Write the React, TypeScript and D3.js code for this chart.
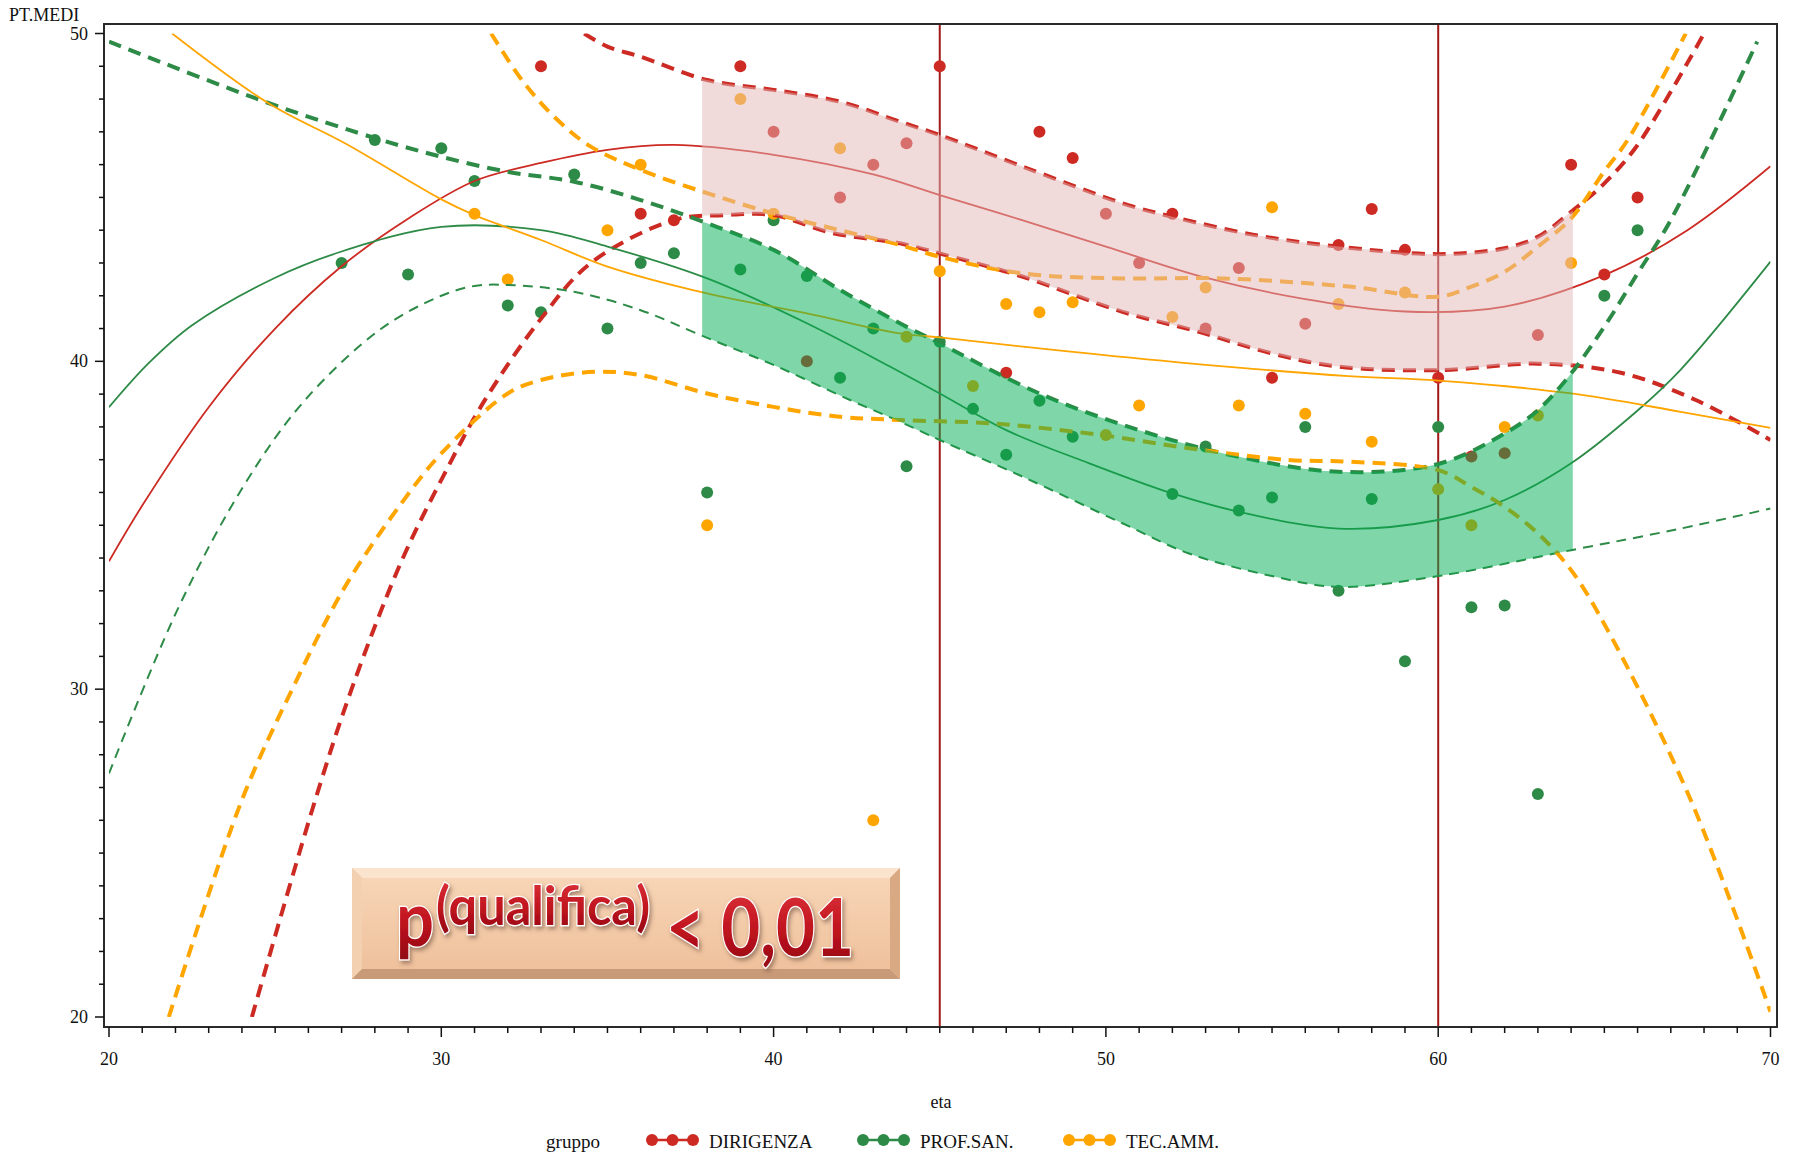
import React, { useEffect } from "react";
import * as d3 from "d3";

// ---------- categories / styles ----------
const groups = ["DIRIGENZA", "PROF.SAN.", "TEC.AMM."];
const colors = ["#cc2a22", "#2e8b47", "#ffa500"];

// ---------- axes ----------
const xTicks = [20, 30, 40, 50, 60, 70];
const yTicks = [20, 30, 40, 50];
const refAges = [45, 60];
const bandRange = [37.85, 64.05];

// ---------- scatter: DIRIGENZA ----------
const dirAge = [33, 36, 37, 39, 40, 41, 42, 43, 44, 45, 47, 48, 49, 50, 51, 52, 53, 54, 55, 56, 57, 58, 59, 60, 61, 62, 63, 64, 65, 66];
const dirVal = [49.0, 44.5, 44.3, 49.0, 47.0, 40.0, 45.0, 46.0, 46.65, 49.0, 39.65, 47.0, 46.2, 44.5, 43.0, 44.5, 41.0, 42.85, 39.5, 41.15, 43.55, 44.65, 43.4, 39.5, 37.1, 37.2, 40.8, 46.0, 42.65, 45.0];

// ---------- scatter: PROF.SAN. ----------
const grnAge = [27, 28, 29, 30, 31, 32, 33, 34, 35, 36, 37, 38, 39, 40, 41, 42, 43, 44, 45, 46, 47, 48, 49, 52, 53, 54, 55, 56, 57, 58, 59, 60, 61, 62, 63, 65, 66];
const grnVal = [43.0, 46.75, 42.65, 46.5, 45.5, 41.7, 41.5, 45.7, 41.0, 43.0, 43.3, 36.0, 42.8, 44.3, 42.6, 39.5, 41.0, 36.8, 40.6, 38.55, 37.15, 38.8, 37.7, 35.95, 37.4, 35.45, 35.85, 38.0, 33.0, 35.8, 30.85, 38.0, 32.5, 32.55, 26.8, 42.0, 44.0];

// ---------- scatter: TEC.AMM. ----------
const orgAge = [31, 32, 35, 36, 38, 39, 40, 42, 43, 44, 45, 46, 47, 48, 49, 50, 51, 52, 53, 54, 55, 56, 57, 58, 59, 60, 61, 62, 63, 64];
const orgVal = [44.5, 42.5, 44.0, 46.0, 35.0, 48.0, 44.5, 46.5, 26.0, 40.75, 42.75, 39.25, 41.75, 41.5, 41.8, 37.75, 38.65, 41.35, 42.25, 38.65, 44.7, 38.4, 41.75, 37.55, 42.1, 36.1, 35.0, 38.0, 38.35, 43.0];

// ---------- fitted curves & limits ----------
const dirFitAge = [20, 21, 23, 25, 27, 29, 31, 33, 35, 37, 40, 43, 45, 47.5, 50, 53, 56, 59, 62, 65, 67.5, 70];
const dirFitVal = [33.9, 35.6, 38.6, 41.0, 42.9, 44.35, 45.5, 46.05, 46.45, 46.6, 46.3, 45.7, 45.07, 44.3, 43.5, 42.55, 41.9, 41.52, 41.67, 42.63, 44.0, 45.95];
const dirUpAge = [34.3, 35, 36, 38, 40, 42, 43.8, 45, 47.5, 50.5, 52, 54.5, 57, 60, 62, 63, 64, 65, 66, 68];
const dirUpVal = [50, 49.6, 49.29, 48.58, 48.28, 47.92, 47.31, 46.9, 45.94, 44.82, 44.41, 43.85, 43.5, 43.27, 43.45, 43.8, 44.56, 45.43, 46.6, 50];
const dirLoAge = [24.3, 26.2, 27.3, 28.8, 30.06, 31.3, 33, 34.5, 37, 38.5, 40, 41.7, 43.8, 45, 47.5, 50.5, 52.8, 55, 57, 60, 63, 65.5, 67.75, 70];
const dirLoVal = [20, 26.6, 30.0, 33.9, 36.5, 38.8, 41.3, 43.0, 44.31, 44.46, 44.46, 43.93, 43.6, 43.29, 42.58, 41.51, 40.9, 40.24, 39.84, 39.73, 39.93, 39.65, 38.82, 37.6];

const grnFitAge = [20, 21.2, 22.5, 25, 27, 30, 33, 35, 38, 41, 43.5, 45, 47, 49.5, 52, 54, 57, 60, 62, 64, 66, 67.3, 70];
const grnFitVal = [38.6, 39.95, 41.1, 42.55, 43.35, 44.1, 44.0, 43.5, 42.53, 41.16, 39.84, 39.02, 37.9, 36.89, 35.97, 35.41, 34.9, 35.16, 35.77, 36.89, 38.5, 39.75, 43.04];
const grnUpAge = [20, 24.8, 28.2, 30, 32, 34, 36, 38, 40, 42, 43.8, 45, 48, 51, 54, 57, 60, 62, 63, 64, 65, 66, 67, 69.6];
const grnUpVal = [49.75, 47.88, 46.75, 46.24, 45.78, 45.48, 44.92, 44.21, 43.4, 42.18, 41.16, 40.55, 39.02, 37.9, 37.09, 36.63, 36.87, 37.8, 38.51, 39.63, 41.06, 42.68, 44.31, 49.75];
const grnLoAge = [20, 22.1, 24.1, 25.9, 28.2, 30, 31, 32, 34, 36, 37.8, 40, 42.3, 43.8, 45, 47.5, 50.5, 52.5, 55, 57, 60, 64, 67.3, 70];
const grnLoVal = [27.43, 32.51, 36.28, 38.82, 41.0, 42.0, 42.3, 42.33, 42.12, 41.56, 40.8, 39.89, 38.82, 38.16, 37.6, 36.48, 35.06, 34.14, 33.45, 33.12, 33.45, 34.24, 34.9, 35.51];

const orgFitAge = [21.9, 24.8, 27.1, 30, 31, 33, 35, 38, 41, 43.8, 45, 48.5, 52.5, 57.3, 60, 64, 67.3, 70];
const orgFitVal = [50, 47.87, 46.65, 44.94, 44.46, 43.7, 42.89, 42.07, 41.46, 40.85, 40.73, 40.34, 39.94, 39.55, 39.41, 39.02, 38.46, 37.97];
const orgUpAge = [31.5, 32.5, 33.5, 34.5, 36, 38, 40, 42, 43.8, 45, 47.5, 50.5, 53.5, 57.3, 60, 61, 62, 63, 64, 65, 65.7, 67.45];
const orgUpVal = [50, 48.48, 47.36, 46.55, 45.84, 45.13, 44.51, 44.0, 43.55, 43.19, 42.68, 42.53, 42.53, 42.28, 41.97, 42.28, 42.73, 43.5, 44.36, 45.8, 46.75, 50];
const orgLoAge = [21.8, 24, 25.5, 27.1, 28.8, 30, 32, 33, 34.6, 36, 38, 40, 42, 43.8, 46.5, 49.5, 52.5, 55.5, 57.3, 60, 61, 62, 63, 64, 65.1, 67.6, 70];
const orgLoVal = [20, 26.62, 29.97, 33.12, 35.67, 37.19, 39.02, 39.43, 39.68, 39.58, 39.02, 38.61, 38.31, 38.21, 38.11, 37.8, 37.35, 36.99, 36.94, 36.68, 36.17, 35.56, 34.75, 33.63, 31.8, 26.62, 20.16];

const zip = (a: number[], b: number[]): [number, number][] => a.map((v, i) => [v, b[i]]);

export default function App() {
  useEffect(() => {
    document.body.style.margin = "0";
  }, []);

  const x = d3.scaleLinear().domain([20, 70]).range([109, 1770.5]);
  const y = d3.scaleLinear().domain([20, 50]).range([1017, 33.5]);
  const line = d3
    .line<[number, number]>()
    .x((d) => x(d[0]))
    .y((d) => y(d[1]))
    .curve(d3.curveCatmullRom.alpha(0.5));

  const frame = { l: 104, r: 1777, t: 24, b: 1027 };

  const bandPath = (up: [number, number][], lo: [number, number][]) => {
    const a = line(up) as string;
    const b = line([...lo].reverse()) as string;
    return a + "L" + b.slice(1) + "Z";
  };

  const scatter = [
    { pts: zip(dirAge, dirVal), c: colors[0] },
    { pts: zip(grnAge, grnVal), c: colors[1] },
    { pts: zip(orgAge, orgVal), c: colors[2] },
  ];

  const curves = [
    { d: zip(dirFitAge, dirFitVal), c: colors[0], w: 1.8, dash: "" },
    { d: zip(dirUpAge, dirUpVal), c: colors[0], w: 4, dash: "13 8" },
    { d: zip(dirLoAge, dirLoVal), c: colors[0], w: 4, dash: "13 8" },
    { d: zip(grnFitAge, grnFitVal), c: colors[1], w: 1.8, dash: "" },
    { d: zip(grnUpAge, grnUpVal), c: colors[1], w: 4, dash: "13 8" },
    { d: zip(grnLoAge, grnLoVal), c: colors[1], w: 2, dash: "10 7" },
    { d: zip(orgFitAge, orgFitVal), c: colors[2], w: 1.8, dash: "" },
    { d: zip(orgUpAge, orgUpVal), c: colors[2], w: 4, dash: "13 8" },
    { d: zip(orgLoAge, orgLoVal), c: colors[2], w: 4, dash: "13 8" },
  ];

  const minorX = d3.range(20, 71, 1);
  const minorY = d3.range(20, 51, 1);
  const serif = "'Liberation Serif', 'DejaVu Serif', serif";

  const legendItems = [
    { label: groups[0], c: colors[0], x0: 652 },
    { label: groups[1], c: colors[1], x0: 863 },
    { label: groups[2], c: colors[2], x0: 1069 },
  ];

  const box = { x: 352, y: 868, w: 548, h: 111, bv: 10 };

  return (
    <svg
      width={1798}
      height={1156}
      style={{ position: "absolute", left: 0, top: 0, display: "block", background: "#fff" }}
      xmlns="http://www.w3.org/2000/svg"
    >
      <defs>
        <clipPath id="dataClip">
          <rect x={x(20)} y={y(50)} width={x(70) - x(20)} height={y(20) - y(50)} />
        </clipPath>
        <clipPath id="bandClip">
          <rect x={x(bandRange[0])} y={y(50)} width={x(bandRange[1]) - x(bandRange[0])} height={y(20) - y(50)} />
        </clipPath>
        <linearGradient id="boxFace" x1="0" y1="0" x2="0" y2="1">
          <stop offset="0" stopColor="#f7d5b6" />
          <stop offset="1" stopColor="#efc19c" />
        </linearGradient>
        <linearGradient id="txtFill" x1="0" y1="0" x2="0" y2="1">
          <stop offset="0" stopColor="#e23a40" />
          <stop offset="0.55" stopColor="#c0141f" />
          <stop offset="1" stopColor="#8e0812" />
        </linearGradient>
        <filter id="txtShadow" x="-10%" y="-20%" width="130%" height="150%">
          <feDropShadow dx="2" dy="3" stdDeviation="2" floodColor="#6b4a3a" floodOpacity="0.55" />
        </filter>
      </defs>

      {/* y label */}
      <text x={9} y={21} fontFamily={serif} fontSize={18} fill="#111">
        PT.MEDI
      </text>

      {/* reference lines */}
      {refAges.map((a) => (
        <line key={a} x1={x(a)} x2={x(a)} y1={frame.t} y2={frame.b} stroke="#a01818" strokeWidth={2} />
      ))}

      {/* scatter points */}
      {scatter.map((s, i) => (
        <g key={i}>
          {s.pts.map((p, j) => (
            <circle key={j} cx={x(p[0])} cy={y(p[1])} r={6} fill={s.c} />
          ))}
        </g>
      ))}

      {/* curves */}
      <g clipPath="url(#dataClip)">
        {curves.map((c, i) => (
          <path
            key={i}
            d={line(c.d) as string}
            fill="none"
            stroke={c.c}
            strokeWidth={c.w}
            strokeDasharray={c.dash || undefined}
          />
        ))}
      </g>

      {/* confidence bands */}
      <g clipPath="url(#bandClip)">
        <path d={bandPath(zip(dirUpAge, dirUpVal), zip(dirLoAge, dirLoVal))} fill="rgb(225,181,181)" fillOpacity={0.5} />
        <path d={bandPath(zip(grnUpAge, grnUpVal), zip(grnLoAge, grnLoVal))} fill="rgb(0,173,81)" fillOpacity={0.5} />
      </g>

      {/* frame */}
      <rect
        x={frame.l}
        y={frame.t}
        width={frame.r - frame.l}
        height={frame.b - frame.t}
        fill="none"
        stroke="#2a2a2a"
        strokeWidth={2}
      />

      {/* x ticks */}
      {minorX.map((v) => (
        <line
          key={"mx" + v}
          x1={x(v)}
          x2={x(v)}
          y1={frame.b}
          y2={frame.b + (v % 10 === 0 ? 10 : 6)}
          stroke="#111"
          strokeWidth={1.5}
        />
      ))}
      {xTicks.map((v) => (
        <text key={"xt" + v} x={x(v)} y={1065} textAnchor="middle" fontFamily={serif} fontSize={18} fill="#111">
          {v}
        </text>
      ))}

      {/* y ticks */}
      {minorY.map((v) => (
        <line
          key={"my" + v}
          x1={frame.l - (v % 10 === 0 ? 9 : 5)}
          x2={frame.l}
          y1={y(v)}
          y2={y(v)}
          stroke="#111"
          strokeWidth={1.5}
        />
      ))}
      {yTicks.map((v) => (
        <text key={"yt" + v} x={88} y={y(v) + 6} textAnchor="end" fontFamily={serif} fontSize={18} fill="#111">
          {v}
        </text>
      ))}

      {/* x label */}
      <text x={941} y={1108} textAnchor="middle" fontFamily={serif} fontSize={18} fill="#111">
        eta
      </text>

      {/* legend */}
      <text x={573} y={1148} textAnchor="middle" fontFamily={serif} fontSize={19} fill="#111">
        gruppo
      </text>
      {legendItems.map((it) => (
        <g key={it.label}>
          <line x1={it.x0} x2={it.x0 + 41} y1={1140} y2={1140} stroke={it.c} strokeWidth={2.5} />
          {[0, 20.5, 41].map((dx) => (
            <circle key={dx} cx={it.x0 + dx} cy={1140} r={6} fill={it.c} />
          ))}
          <text x={it.x0 + 57} y={1148} fontFamily={serif} fontSize={19} fill="#111">
            {it.label}
          </text>
        </g>
      ))}

      {/* annotation box */}
      <g>
        <rect x={box.x} y={box.y} width={box.w} height={box.h} fill="#f0c6a2" />
        <polygon
          points={`${box.x},${box.y} ${box.x + box.w},${box.y} ${box.x + box.w - box.bv},${box.y + box.bv} ${box.x + box.bv},${box.y + box.bv}`}
          fill="#fbe4cd"
        />
        <polygon
          points={`${box.x},${box.y} ${box.x + box.bv},${box.y + box.bv} ${box.x + box.bv},${box.y + box.h - box.bv} ${box.x},${box.y + box.h}`}
          fill="#f3d0b0"
        />
        <polygon
          points={`${box.x},${box.y + box.h} ${box.x + box.bv},${box.y + box.h - box.bv} ${box.x + box.w - box.bv},${box.y + box.h - box.bv} ${box.x + box.w},${box.y + box.h}`}
          fill="#c89a78"
        />
        <polygon
          points={`${box.x + box.w},${box.y} ${box.x + box.w},${box.y + box.h} ${box.x + box.w - box.bv},${box.y + box.h - box.bv} ${box.x + box.w - box.bv},${box.y + box.bv}`}
          fill="#d9a983"
        />
        <rect
          x={box.x + box.bv}
          y={box.y + box.bv}
          width={box.w - 2 * box.bv}
          height={box.h - 2 * box.bv}
          fill="url(#boxFace)"
        />
        <g
          filter="url(#txtShadow)"
          fontFamily="Lato, 'Open Sans', sans-serif"
          fontWeight={700}
          fill="url(#txtFill)"
          stroke="#fff"
          strokeWidth={2.5}
          style={{ paintOrder: "stroke" }}
        >
          <text x={396} y={946} fontSize={76} textLength={38} lengthAdjust="spacingAndGlyphs">
            p
          </text>
          <text x={436} y={925} fontSize={54} textLength={214} lengthAdjust="spacingAndGlyphs">
            (qualifica)
          </text>
          <text x={666} y={956} fontSize={80} textLength={188} lengthAdjust="spacingAndGlyphs">
            {"< 0,01"}
          </text>
        </g>
      </g>
    </svg>
  );
}
